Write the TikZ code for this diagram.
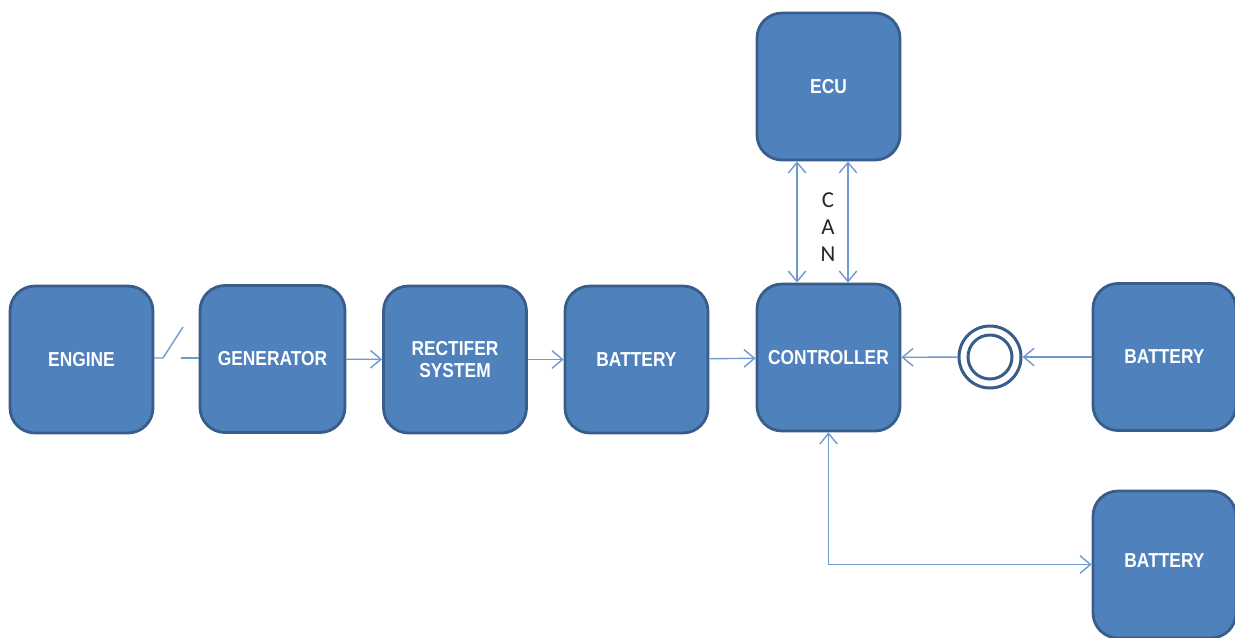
\documentclass[tikz,border=0pt]{standalone}
\usepackage{fontspec}
\newfontfamily\blockfont{Liberation Sans}[FakeStretch=0.86]
\newfontfamily\canfont{Carlito}
\usetikzlibrary{arrows.meta}
\definecolor{boxfill}{HTML}{4F81BD}
\definecolor{boxline}{HTML}{385D8A}
\definecolor{wire}{HTML}{7199D1}

\begin{document}
\begin{tikzpicture}
[x=0.02cm,y=-0.02cm,>={Straight Barb[length=6pt,width=10pt]},
 block/.style={rectangle,rounded corners=0.5cm,draw=boxline,fill=boxfill,
    line width=1.6pt,minimum width=2.86cm,minimum height=2.94cm,inner sep=0pt,
    text=white,align=center,font=\blockfont\bfseries\fontsize{11.5}{13}\selectfont},
 plain/.style={draw=wire,line width=0.8pt},
 link/.style={plain,->},
 ring/.style={circle,draw=boxline,line width=1.7pt,minimum size=1.24cm,inner sep=0pt}]
\useasboundingbox (0,0) rectangle (1235,637);

% the blocks
\node[block] (engine) at (81.5,359.5) {ENGINE};
\node[block,minimum width=2.9cm] (gen) at (272.5,359) {GENERATOR};
\node[block] (rect) at (455,359.5) {RECTIFER\\SYSTEM};
\node[block] (bat1) at (636.5,359.5) {BATTERY};
\node[block] (ctrl) at (828.5,357.5) {CONTROLLER};
\node[block] (ecu) at (828.5,86.5) {ECU};
\node[block] (bat2) at (1164.5,357) {BATTERY};
\node[block,text depth=0.16cm] (bat3) at (1164.5,564.5) {BATTERY};

% switch symbol and connector
\node[ring] (ring) at (990,357) {};
\draw[boxline,line width=1.7pt] (ring.center) circle[radius=0.44cm];

\node[font=\canfont\fontsize{13}{15.5}\selectfont,align=center,text=black!85]
  (can) at (828,227) {C\\A\\N};

% open clutch between engine and generator
\coordinate (sw1) at (163,358);
\coordinate (sw2) at (183,327);
\coordinate (sw3) at (181,358);
\draw[plain] (engine.east |- sw1) -- (sw1) -- (sw2);
\draw[plain] (sw3) -- (gen.west |- sw3);

\draw[link] (gen) -- (rect);
\draw[link] (rect) -- (bat1);
\draw[link] (bat1) -- (ctrl);
\draw[link] (bat2) -- (ring);
\draw[link] (ring) -- (ctrl);
\draw[link,<->] ([xshift=-0.63cm]ctrl.north) -- ([xshift=-0.63cm]ecu.south);
\draw[link,<->] ([xshift=0.39cm]ctrl.north) -- ([xshift=0.39cm]ecu.south);
\draw[link,<->] (ctrl.south) |- (bat3.west);
\end{tikzpicture}
\end{document}
